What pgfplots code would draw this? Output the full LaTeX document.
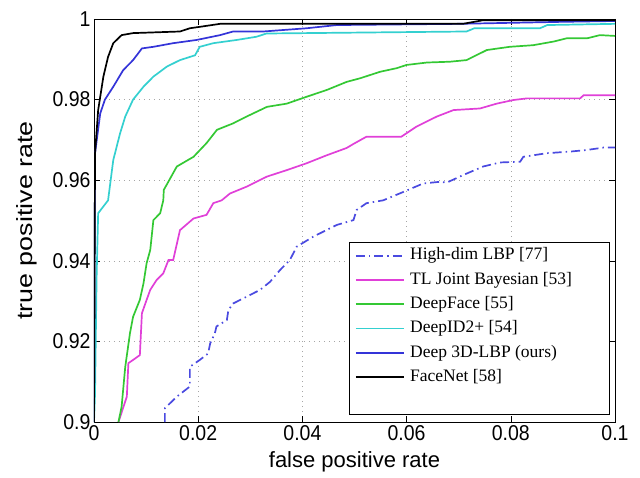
\documentclass[border=0pt]{standalone}
\usepackage{fontspec}
\setmainfont{Liberation Serif}
\newfontfamily\arial{Liberation Sans}
\usepackage{pgfplots}
\pgfplotsset{compat=1.18}
\definecolor{c_hdlbp}{HTML}{4A4AE0}
\definecolor{c_tljb}{HTML}{E040D8}
\definecolor{c_dface}{HTML}{34C834}
\definecolor{c_did}{HTML}{34D0D0}
\definecolor{c_d3d}{HTML}{3434D8}

\begin{document}
\begin{tikzpicture}
\useasboundingbox (-94pt,-55pt) rectangle (546pt,422pt);
\begin{axis}[
    scale only axis,
    width=521pt, height=403pt,
    xmin=0, xmax=0.1, ymin=0.9, ymax=1,
    xtick={0,0.02,0.04,0.06,0.08,0.1},
    xticklabels={0,0.02,0.04,0.06,0.08,0.1},
    ytick={0.9,0.92,0.94,0.96,0.98,1},
    yticklabels={0.9,0.92,0.94,0.96,0.98,1},
    scaled x ticks=false, scaled y ticks=false,
    tick align=inside,
    major tick length=6pt,
    tick style={black, line width=0.5pt},
    axis line style={black, line width=0.8pt},
    grid=major,
    grid style={gray!70, line width=0.6pt, dash pattern=on 1pt off 4pt},
    tick label style={font=\arial\fontsize{19.5}{21}\selectfont, yscale=1.1},
    xlabel={false positive rate},
    ylabel={true positive rate},
    xlabel style={font=\arial\fontsize{22}{24}\selectfont, at={(axis description cs:0.5,-0.099)}, anchor=center},
    ylabel style={font=\arial\fontsize{22}{24}\selectfont, at={(axis description cs:-0.129,0.5)}, anchor=center, xscale=1.22},
    legend style={
        at={(rel axis cs:1,0)}, anchor=south east, xshift=-5pt, yshift=7pt,
        draw=black, line width=0.6pt,
        font=\fontsize{17.5}{19}\selectfont,
        inner xsep=6pt, inner ysep=3pt,
        nodes={inner sep=1.5pt, text height=13pt, text depth=4.5pt},
        row sep=3.8pt, column sep=4pt,
    },
    legend cell align=left,
    legend image code/.code={\draw[#1] plot coordinates {(0pt,0pt) (24pt,0pt) (48pt,0pt)};},
]
\addplot[c_hdlbp, line width=1.7pt, dash pattern=on 9pt off 4pt on 1.5pt off 4pt] coordinates {
(0.0136,0.9) (0.0136,0.9034) (0.0159,0.9063) (0.0184,0.9088) (0.0184,0.9137)
(0.0203,0.9154) (0.0219,0.9170) (0.0223,0.9195) (0.0232,0.9220) (0.0235,0.9237)
(0.0255,0.9253) (0.0258,0.9278) (0.0267,0.9294) (0.0293,0.9311) (0.0319,0.9328)
(0.0338,0.9348) (0.0357,0.9377) (0.0376,0.9402) (0.0389,0.9435) (0.0421,0.9460)
(0.0466,0.9489) (0.0498,0.9501) (0.0504,0.9526) (0.0523,0.9543) (0.0555,0.9550)
(0.0594,0.9571) (0.0632,0.9592) (0.0664,0.9596) (0.0677,0.9594) (0.0709,0.9613)
(0.0747,0.9634) (0.0779,0.9644) (0.0818,0.9646) (0.0824,0.9658) (0.0869,0.9667)
(0.0914,0.9671) (0.0946,0.9675) (0.0978,0.9681) (0.1,0.9681)
};
\addlegendentry{\makebox[192pt][l]{High-dim LBP [77]}}
\addplot[c_tljb, line width=1.7pt] coordinates {
(0.0047,0.9) (0.0063,0.9063) (0.0066,0.9146) (0.0075,0.9154) (0.0088,0.9166)
(0.0092,0.9270) (0.0101,0.9303) (0.0108,0.9328) (0.0120,0.9352) (0.0133,0.9369)
(0.0143,0.9402) (0.0152,0.9402) (0.0165,0.9476) (0.0191,0.9505) (0.0216,0.9514)
(0.0229,0.9543) (0.0245,0.9550) (0.0261,0.9567) (0.0293,0.9584) (0.0332,0.9609)
(0.0370,0.9625) (0.0408,0.9642) (0.0447,0.9662) (0.0485,0.9680) (0.0498,0.9690)
(0.0523,0.9708) (0.0590,0.9708) (0.0619,0.9733) (0.0658,0.9758) (0.0690,0.9774)
(0.0741,0.9778) (0.0773,0.9790) (0.0805,0.9799) (0.0831,0.9803) (0.0933,0.9803)
(0.0940,0.9811) (0.1,0.9811)
};
\addlegendentry{TL Joint Bayesian [53]}
\addplot[c_dface, line width=1.7pt] coordinates {
(0.0047,0.9) (0.0053,0.9038) (0.0060,0.9137) (0.0069,0.9220) (0.0075,0.9261)
(0.0088,0.9303) (0.0095,0.9344) (0.0101,0.9394) (0.0108,0.9427) (0.0114,0.9501)
(0.0127,0.9518) (0.0133,0.9550) (0.0134,0.9576) (0.0159,0.9634) (0.0191,0.9658)
(0.0216,0.9692) (0.0236,0.9725) (0.0267,0.9741) (0.0293,0.9758) (0.0332,0.9782)
(0.0370,0.9790) (0.0408,0.9807) (0.0447,0.9824) (0.0485,0.9844) (0.0511,0.9853)
(0.0549,0.9869) (0.0581,0.9878) (0.0600,0.9886) (0.0639,0.9892) (0.0683,0.9894)
(0.0715,0.9898) (0.0754,0.9923) (0.0798,0.9931) (0.0843,0.9935) (0.0882,0.9944)
(0.0907,0.9952) (0.0946,0.9952) (0.0971,0.9960) (0.1,0.9958)
};
\addlegendentry{DeepFace [55]}
\addplot[c_did, line width=1.7pt] coordinates {
(0,0.9) (0.0002,0.9071) (0.0005,0.9360) (0.0008,0.9518) (0.0027,0.9550)
(0.0037,0.9650) (0.0050,0.9716) (0.0060,0.9758) (0.0075,0.9800) (0.0095,0.9832)
(0.0114,0.9857) (0.0140,0.9882) (0.0165,0.9898) (0.0194,0.9910) (0.0203,0.9931)
(0.0229,0.9940) (0.0274,0.9948) (0.0312,0.9956) (0.0331,0.9964) (0.0715,0.9969)
(0.0730,0.9977) (0.0856,0.9977) (0.0870,0.9985) (0.1,0.9988)
};
\addlegendentry{DeepID2+ [54]}
\addplot[c_d3d, line width=1.7pt] coordinates {
(0,0.9) (0.0002,0.9667) (0.0012,0.9766) (0.0021,0.9800) (0.0037,0.9832)
(0.0056,0.9873) (0.0075,0.9898) (0.0092,0.9927) (0.0114,0.9931) (0.0152,0.9940)
(0.0197,0.9948) (0.0242,0.9960) (0.0267,0.9969) (0.0325,0.9969) (0.0408,0.9977)
(0.0466,0.9985) (0.0700,0.9988) (0.0900,0.9993) (0.1,0.9995)
};
\addlegendentry{Deep 3D-LBP (ours)}
\addplot[black, line width=1.7pt] coordinates {
(0,0.9) (0.0002,0.9667) (0.0008,0.9774) (0.0018,0.9857) (0.0027,0.9906)
(0.0037,0.9940) (0.0053,0.9960) (0.0075,0.9965) (0.0165,0.9969) (0.0184,0.9977)
(0.0216,0.9983) (0.0242,0.9988) (0.0708,0.9988) (0.0747,0.9997) (0.1,0.9997)
};
\addlegendentry{FaceNet [58]}
\addlegendimage{empty legend}
\addlegendentry{}
\end{axis}
\end{tikzpicture}
\end{document}
